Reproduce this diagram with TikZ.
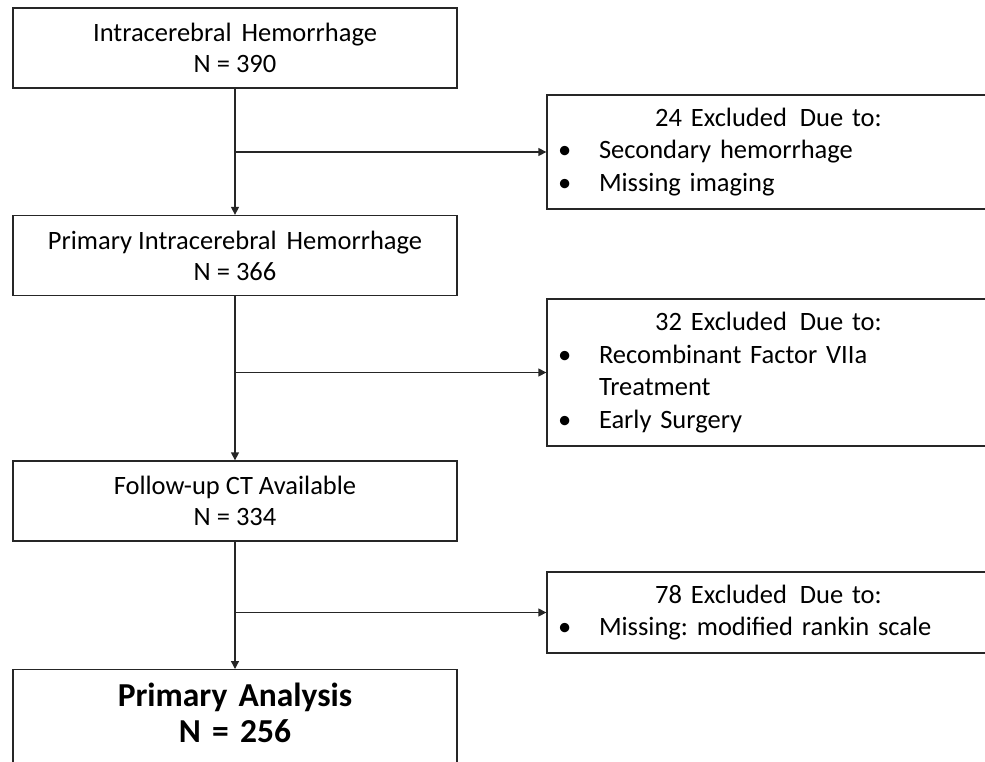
\documentclass[tikz,border=0pt]{standalone}
\usepackage{fontspec}
\setmainfont{Carlito}
\usetikzlibrary{arrows.meta}
\frenchspacing
\newcommand{\bul}[1]{\hspace*{11pt}\makebox[41pt][l]{•}#1\par}
\newcommand{\cont}[1]{\hspace*{52pt}#1\par}
\newcommand{\wsp}{\ \hspace{4pt}}
\begin{document}
\begin{tikzpicture}[x=1pt,y=-1pt,
  mainbox/.style={draw=black!85, line width=1.3pt, minimum width=444pt, minimum height=80pt,
    inner sep=0pt, align=center, font=\fontsize{26.5}{31}\selectfont},
  exbox/.style={draw=black!85, line width=1.3pt, minimum width=443pt, text width=443pt,
    inner sep=0pt, align=left, font=\fontsize{26.5}{32.5}\selectfont},
  conn/.style={draw=black!85, line width=1.3pt, -{Triangle[length=8pt,width=8pt]}},
  ]
\useasboundingbox (0,0) rectangle (985,761);
\begin{scope}
\clip (0,0) rectangle (985,761);
\node[mainbox] (b1) at (235,48) {Intracerebral\wsp Hemorrhage\\N = 390};
\node[mainbox] (b2) at (235,255.5) {Primary Intracerebral\wsp Hemorrhage\\N = 366};
\node[mainbox] (b3) at (235,501) {Follow-up CT Available\\N = 334};
\node[mainbox, minimum height=160pt, anchor=north] (b4) at (235,669) {};
\node[anchor=base, text width=444pt, align=center, inner sep=0pt,
  font=\fontsize{33.5}{36}\selectfont\bfseries] (b4t) at (235,706) {Primary Analysis\\N = 256};

\node[exbox, minimum height=114pt] (e1) at (768.5,152) {%
  {\centering 24 Excluded\wsp Due to:\par}
  \bul{Secondary hemorrhage}
  \bul{Missing imaging}};
\node[exbox, minimum height=147pt] (e2) at (768.5,372.5) {%
  {\centering 32 Excluded\wsp Due to:\par}
  \bul{Recombinant Factor VIIa}
  \cont{Treatment}
  \bul{Early Surgery}};
\node[exbox, minimum height=81pt] (e3) at (768.5,612.5) {%
  {\centering 78 Excluded\wsp Due to:\par}
  \bul{Missing: modified rankin scale}};

\draw[conn] (b1) -- (b2);
\draw[conn] (b2) -- (b3);
\draw[conn] (b3.south) -- (b4.north);
\draw[conn] (b1.south |- e1.west) -- (e1.west);
\draw[conn] (b2.south |- e2.west) -- (e2.west);
\draw[conn] (b3.south |- e3.west) -- (e3.west);
\end{scope}
\end{tikzpicture}
\end{document}
